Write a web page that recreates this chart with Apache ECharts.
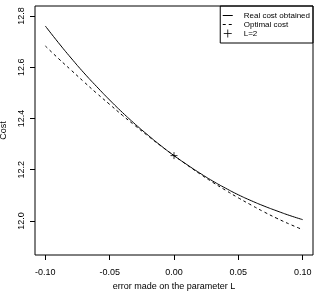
<!DOCTYPE html>
<html>
<head>
<meta charset="utf-8">
<script src="https://cdn.jsdelivr.net/npm/echarts@6/dist/echarts.min.js"></script>
<style>
  html, body { margin: 0; padding: 0; background: #fff; }
  #chart { width: 315px; height: 295px; }
</style>
</head>
<body>
<div id="chart"></div>
<script>
// error on L
var errors = [-0.10, -0.09, -0.08, -0.07, -0.06, -0.05, -0.04, -0.03, -0.02, -0.01, 0.00,
              0.01, 0.02, 0.03, 0.04, 0.05, 0.06, 0.07, 0.08, 0.09, 0.10];
var realCost = [12.761, 12.697, 12.636, 12.578, 12.524, 12.472, 12.423, 12.377, 12.334, 12.293, 12.255,
                12.220, 12.187, 12.156, 12.128, 12.102, 12.079, 12.058, 12.039, 12.021, 12.005];
var optimalCost = [12.683, 12.635, 12.589, 12.543, 12.498, 12.455, 12.412, 12.371, 12.331, 12.292, 12.255,
                   12.219, 12.184, 12.151, 12.120, 12.090, 12.062, 12.035, 12.010, 11.987, 11.966];
var markPoint = [[0.00, 12.255]];
var xTicks = [-0.10, -0.05, 0.00, 0.05, 0.10];
var yTicks = [12.0, 12.2, 12.4, 12.6, 12.8];

function pairs(xs, ys) {
  var res = [];
  for (var i = 0; i < xs.length; i++) res.push([xs[i], ys[i]]);
  return res;
}

var font = 'Liberation Sans, Arial, sans-serif';
var plus = 'path://M0,5L10,5M5,0L5,10';
var chart = echarts.init(document.getElementById('chart'));
chart.setOption({
  animation: false,
  color: ['#000', '#000', '#000'],
  textStyle: { fontFamily: font, color: '#000' },
  grid: {
    left: 35, top: 6, width: 278, height: 249, show: true, borderColor: '#000', borderWidth: 1,
    containLabel: false, outerBoundsMode: 'none'
  },
  legend: {
    right: 2, top: 6, orient: 'vertical',
    borderColor: '#000', borderWidth: 1,
    padding: [5, 3, 5, 2],
    itemWidth: 10, itemHeight: 8, itemGap: 0,
    lineStyle: { width: 1 },
    textStyle: { fontSize: 8, fontFamily: font, color: '#000', lineHeight: 9, padding: [0, 0, 0, 6] },
    data: [
      { name: 'Real cost obtained', itemStyle: { opacity: 0 } },
      { name: 'Optimal cost', itemStyle: { opacity: 0 } },
      { name: 'L=2', icon: plus, itemStyle: { color: 'transparent', borderColor: '#000', borderWidth: 1 } }
    ]
  },
  xAxis: {
    type: 'value', min: -0.108, max: 0.108, position: 'bottom',
    name: 'error made on the parameter L', nameLocation: 'middle', nameGap: 24,
    nameTextStyle: { fontSize: 9, color: '#000' },
    splitLine: { show: false },
    axisLine: { show: false, onZero: false },
    axisTick: { show: true, length: 5, lineStyle: { color: '#000' }, customValues: xTicks },
    axisLabel: {
      fontSize: 9, color: '#000', margin: 13, customValues: xTicks,
      formatter: function (v) { return v.toFixed(2); }
    }
  },
  yAxis: {
    type: 'value', min: 11.867, max: 12.839, position: 'left',
    name: 'Cost', nameLocation: 'middle', nameGap: 27,
    nameTextStyle: { fontSize: 9, color: '#000' },
    splitLine: { show: false },
    axisLine: { show: false, onZero: false },
    axisTick: { show: true, length: 5, lineStyle: { color: '#000' }, customValues: yTicks },
    axisLabel: {
      fontSize: 9, color: '#000', rotate: 90, margin: 9, customValues: yTicks,
      formatter: function (v) { return v.toFixed(1); }
    }
  },
  series: [
    {
      name: 'Real cost obtained', type: 'line', smooth: true, symbol: 'none',
      lineStyle: { color: '#000', width: 1 },
      data: pairs(errors, realCost)
    },
    {
      name: 'Optimal cost', type: 'line', smooth: true, symbol: 'none',
      lineStyle: { color: '#000', width: 1, type: [3, 3] },
      data: pairs(errors, optimalCost)
    },
    {
      name: 'L=2', type: 'scatter',
      symbol: plus, symbolSize: 7,
      itemStyle: { color: 'transparent', borderColor: '#000', borderWidth: 1 },
      data: markPoint
    }
  ]
});
</script>
</body>
</html>
